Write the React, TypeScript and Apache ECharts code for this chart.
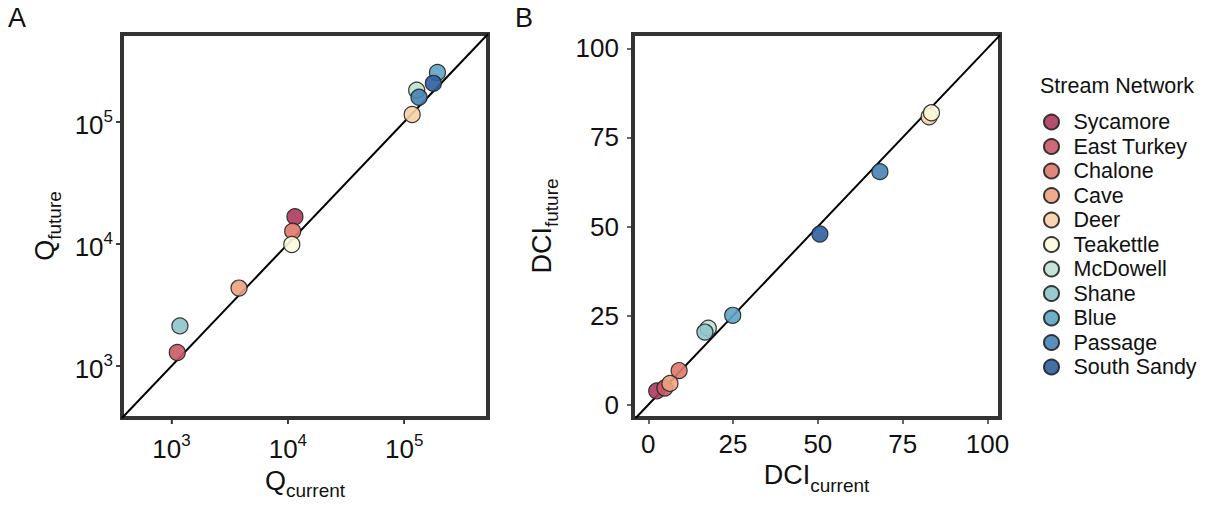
import React, { useEffect, useRef } from "react";
import * as echarts from "echarts";

// Stream networks, in legend order
const networks = [
  "Sycamore",
  "East Turkey",
  "Chalone",
  "Cave",
  "Deer",
  "Teakettle",
  "McDowell",
  "Shane",
  "Blue",
  "Passage",
  "South Sandy",
];

const colors = [
  "#ad3a5e",
  "#c95a66",
  "#e0796b",
  "#eca381",
  "#f8d2a8",
  "#fcfbdc",
  "#bfe3d2",
  "#8ec5c9",
  "#5fa5c4",
  "#4783b6",
  "#2e5f9e",
];

// Panel A: network size Q, current vs future
const qCurrent = [11500, 1120, 11000, 3800, 117000, 10800, 128000, 1180, 193000, 134000, 178000];
const qFuture = [16700, 1290, 12700, 4350, 115000, 9900, 182000, 2130, 254000, 159000, 207000];

// Panel B: connectivity index DCI, current vs future
const dciCurrent = [2.5, 4.9, 9.1, 6.4, 82.8, 83.5, 17.7, 16.7, 24.9, 68.3, 50.6];
const dciFuture = [3.9, 4.7, 9.6, 6.0, 80.8, 81.9, 21.5, 20.4, 25.1, 65.4, 47.9];

// Axis extents and tick values
const qMin = 375;
const qMax = 524800;
const qTicks = [1000, 10000, 100000];
const dciXMin = -4.5;
const dciXMax = 103.7;
const dciYMin = -3.7;
const dciYMax = 104;
const dciTicks = [0, 25, 50, 75, 100];

const FONT = "'Liberation Sans', Arial, Helvetica, sans-serif";
const FRAME = "#333333";
const TICK_LEN = 6;

// Panel A is drawn on a base-10 logarithmic scale: positions are log10 of the values
const lg = (v: number) => Math.log10(v);
const qLogMin = lg(qMin);
const qLogMax = lg(qMax);
const qLogTicks = qTicks.map(lg);

const tickStyle = { show: true, inside: false, length: TICK_LEN, lineStyle: { color: FRAME, width: 1.5 } };

const powRich = {
  b: { fontSize: 26, fontFamily: FONT, color: "#111", verticalAlign: "bottom", lineHeight: 32 },
  s: { fontSize: 17, fontFamily: FONT, color: "#111", verticalAlign: "bottom", lineHeight: 32, padding: [0, 0, 13, 0] },
};

const nameRich = {
  m: { fontSize: 27, fontFamily: FONT, color: "#111", verticalAlign: "bottom", lineHeight: 34, padding: [0, 0, 6, 0] },
  s: { fontSize: 19, fontFamily: FONT, color: "#111", verticalAlign: "bottom", lineHeight: 34 },
};

function powLabel(exp: number) {
  return `{b|10}{s|${Math.round(exp)}}`;
}

const textGraphics = [
  { id: "legendTitle", type: "text", left: 1040, top: 75, style: { text: "Stream Network", fontSize: 21.5, fontFamily: FONT, fill: "#111" } },
  { id: "panelA", type: "text", left: 8, top: 4, style: { text: "A", fontSize: 27, fontFamily: FONT, fill: "#111" } },
  { id: "panelB", type: "text", left: 515, top: 4, style: { text: "B", fontSize: 27, fontFamily: FONT, fill: "#111" } },
];

export default function App() {
  const ref = useRef<HTMLDivElement>(null);

  useEffect(() => {
    document.body.style.margin = "0";
    const chart = echarts.init(ref.current!, undefined, { renderer: "svg" });

    const scatterA = networks.map((n, i) => ({
      name: n,
      type: "scatter",
      xAxisIndex: 0,
      yAxisIndex: 0,
      symbolSize: 16,
      itemStyle: { color: colors[i], borderColor: "#222", borderWidth: 1.2, opacity: 0.9 },
      data: [[lg(qCurrent[i]), lg(qFuture[i])]],
      z: 3,
    }));
    const scatterB = networks.map((n, i) => ({
      name: n,
      type: "scatter",
      xAxisIndex: 1,
      yAxisIndex: 1,
      symbolSize: 16,
      itemStyle: { color: colors[i], borderColor: "#222", borderWidth: 1.2, opacity: 0.9 },
      data: [[dciCurrent[i], dciFuture[i]]],
      z: 3,
    }));

    chart.setOption({
      animation: false,
      backgroundColor: "#ffffff",
      textStyle: { fontFamily: FONT },
      grid: [
        { left: 122, top: 34, width: 366, height: 384, show: true, borderWidth: 4, borderColor: FRAME, backgroundColor: "transparent" },
        { left: 633, top: 34, width: 367, height: 384, show: true, borderWidth: 4, borderColor: FRAME, backgroundColor: "transparent" },
      ],
      xAxis: [
        {
          type: "value",
          gridIndex: 0,
          min: qLogMin,
          max: qLogMax,
          axisLine: { show: false, onZero: false },
          splitLine: { show: false },
          axisTick: { ...tickStyle, customValues: qLogTicks },
          axisLabel: { customValues: qLogTicks, margin: 12, formatter: powLabel, rich: powRich },
          name: "{m|Q}{s|current}",
          nameLocation: "middle",
          nameGap: 48,
          nameTextStyle: { rich: nameRich },
        },
        {
          type: "value",
          gridIndex: 1,
          min: dciXMin,
          max: dciXMax,
          axisLine: { show: false, onZero: false },
          splitLine: { show: false },
          axisTick: { ...tickStyle, customValues: dciTicks },
          axisLabel: { customValues: dciTicks, margin: 13, fontSize: 26, color: "#111", fontFamily: FONT },
          name: "{m|DCI}{s|current}",
          nameLocation: "middle",
          nameGap: 40,
          nameTextStyle: { rich: nameRich },
        },
      ],
      yAxis: [
        {
          type: "value",
          gridIndex: 0,
          min: qLogMin,
          max: qLogMax,
          axisLine: { show: false, onZero: false },
          splitLine: { show: false },
          axisTick: { ...tickStyle, customValues: qLogTicks },
          axisLabel: { customValues: qLogTicks, margin: 9, formatter: powLabel, rich: powRich },
          name: "{m|Q}{s|future}",
          nameLocation: "middle",
          nameRotate: 90,
          nameGap: 58,
          nameTextStyle: { rich: nameRich },
        },
        {
          type: "value",
          gridIndex: 1,
          min: dciYMin,
          max: dciYMax,
          axisLine: { show: false, onZero: false },
          splitLine: { show: false },
          axisTick: { ...tickStyle, customValues: dciTicks },
          axisLabel: { customValues: dciTicks, margin: 14, fontSize: 26, color: "#111", fontFamily: FONT },
          name: "{m|DCI}{s|future}",
          nameLocation: "middle",
          nameRotate: 90,
          nameGap: 72,
          nameTextStyle: { rich: nameRich },
        },
      ],
      legend: {
        data: networks,
        orient: "vertical",
        left: 1038,
        top: 106,
        icon: "circle",
        itemWidth: 30,
        itemHeight: 15,
        itemGap: 2.5,
        textStyle: { fontSize: 21.5, lineHeight: 21, color: "#111", fontFamily: FONT, padding: [0, 0, 0, 2] },
      },
      graphic: textGraphics,
      series: [
        {
          type: "line",
          xAxisIndex: 0,
          yAxisIndex: 0,
          data: [
            [qLogMin, qLogMin],
            [qLogMax, qLogMax],
          ],
          symbol: "none",
          lineStyle: { color: "#000", width: 2 },
          silent: true,
          z: 2,
        },
        {
          type: "line",
          xAxisIndex: 1,
          yAxisIndex: 1,
          data: [
            [dciYMin, dciYMin],
            [dciXMax, dciXMax],
          ],
          symbol: "none",
          lineStyle: { color: "#000", width: 2 },
          silent: true,
          z: 2,
        },
        ...scatterA,
        ...scatterB,
      ],
    });

    // Decade tick marks of panel A, placed through the panel's own axis scales
    const xEdge = chart.convertToPixel({ xAxisIndex: 0 }, qLogMin) as number;
    const yEdge = chart.convertToPixel({ yAxisIndex: 0 }, qLogMin) as number;
    const decadeTicks: any[] = [];
    qLogTicks.forEach((t, i) => {
      const px = chart.convertToPixel({ xAxisIndex: 0 }, t) as number;
      const py = chart.convertToPixel({ yAxisIndex: 0 }, t) as number;
      decadeTicks.push({
        id: `qxTick${i}`,
        type: "line",
        silent: true,
        shape: { x1: px, y1: yEdge, x2: px, y2: yEdge + TICK_LEN },
        style: { stroke: FRAME, lineWidth: 1.5 },
      });
      decadeTicks.push({
        id: `qyTick${i}`,
        type: "line",
        silent: true,
        shape: { x1: xEdge - TICK_LEN, y1: py, x2: xEdge, y2: py },
        style: { stroke: FRAME, lineWidth: 1.5 },
      });
    });
    chart.setOption({ graphic: [...textGraphics, ...decadeTicks] });

    return () => chart.dispose();
  }, []);

  return <div ref={ref} style={{ width: 1206, height: 505 }} />;
}
